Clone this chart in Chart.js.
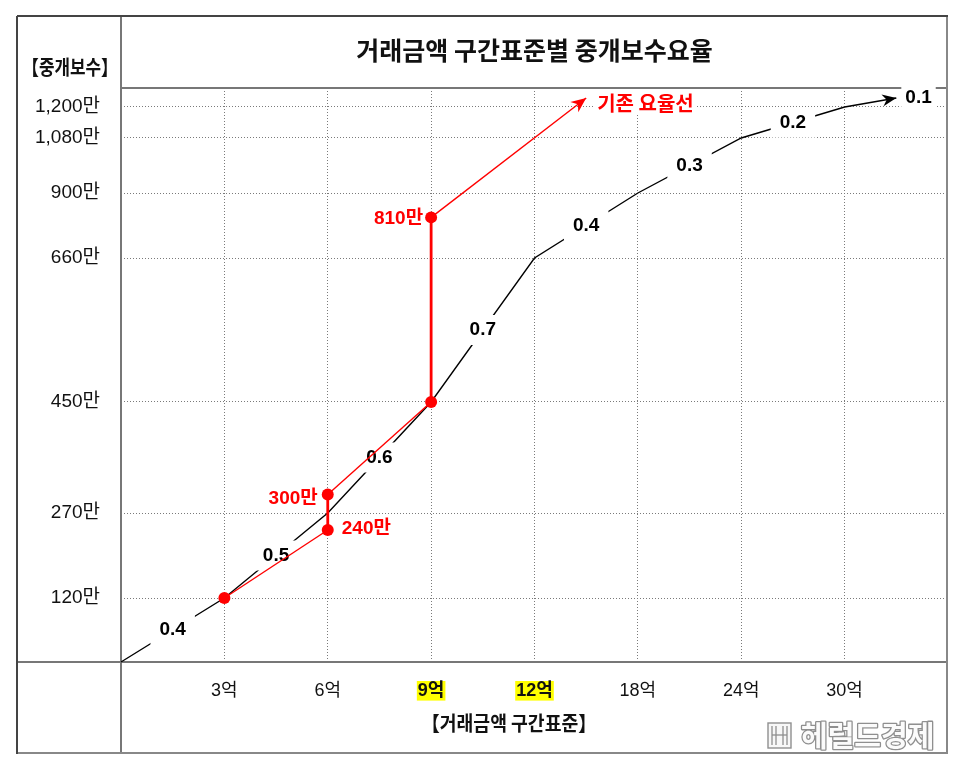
<!DOCTYPE html>
<html><head><meta charset="utf-8">
<script src="https://cdn.jsdelivr.net/npm/chart.js@4.4.1/dist/chart.umd.min.js"></script>
<style>html,body{margin:0;padding:0;background:#fff;} #wrap{width:969px;height:777px;position:relative;}</style>
</head><body><div id="wrap"><canvas id="c"></canvas></div>
<script>
// ---------- data ----------
const priceSteps = [0, 3, 6, 9, 12, 18, 24, 30];            // 거래금액 (억)
const newFees = [0, 120, 270, 450, 660, 900, 1080, 1200];    // 중개보수 (만)
const newRates = ['0.4', '0.5', '0.6', '0.7', '0.4', '0.3', '0.2', '0.1'];
const newArrowEnd = [33, 1235];
const oldPrices = [3, 6, 6, 9, 9];
const oldFees = [120, 240, 300, 450, 810];
const oldArrowEnd = [15, 1235];
const oldLineLabel = '기존 요율선';
const xTickValues = [3, 6, 9, 12, 18, 24, 30];
const xTickLabels = ['3억', '6억', '9억', '12억', '18억', '24억', '30억'];
const xHighlighted = [9, 12];
const yTickValues = [120, 270, 450, 660, 900, 1080, 1200];
const yTickLabels = ['120만', '270만', '450만', '660만', '900만', '1,080만', '1,200만'];
const titleText = '거래금액 구간표준별 중개보수요율';
const yTitleText = '【중개보수】';
const xTitleText = '【거래금액 구간표준】';
const brandText = '헤럴드경제';

// ---------- uneven axis spacing (as drawn in the picture) ----------
const X_BREAKS = [0, 3, 6, 9, 12, 18, 24, 30, 36];
const X_FRACS = X_BREAKS.map((_, i) => i / 8);
const Y_BREAKS = [0, 120, 270, 450, 660, 900, 1080, 1200];
const Y_FRACS = [0, 64, 149, 260, 404, 469, 524, 555].map(h => h / 574);

function interp(v, xs, ys) {
  let i = 0;
  while (i < xs.length - 2 && v > xs[i + 1]) i++;
  return ys[i] + (v - xs[i]) * (ys[i + 1] - ys[i]) / (xs[i + 1] - xs[i]);
}
function makePiecewise(id, breaks, fracs, ticks) {
  return class extends Chart.LinearScale {
    static id = id;
    static defaults = Chart.LinearScale.defaults;
    buildTicks() { return ticks.map(v => ({ value: v })); }
    getPixelForValue(v) { return this.getPixelForDecimal(interp(v, breaks, fracs)); }
    getValueForPixel(p) { return interp(this.getDecimalForPixel(p), fracs, breaks); }
  };
}
Chart.register(makePiecewise('pwx', X_BREAKS, X_FRACS, xTickValues));
Chart.register(makePiecewise('pwy', Y_BREAKS, Y_FRACS, yTickValues));

const FONT_LATIN = '"Liberation Sans", "Noto Sans CJK KR", sans-serif';
const FONT_KR = '"Noto Sans CJK KR", "Liberation Sans", sans-serif';

const blackData = newFees.map((f, i) => ({ x: priceSteps[i], y: f })).concat([{ x: newArrowEnd[0], y: newArrowEnd[1] }]);
const redData = oldFees.map((f, i) => ({ x: oldPrices[i], y: f })).concat([{ x: oldArrowEnd[0], y: oldArrowEnd[1] }]);

function boxLabel(ctx, text, x, y, o) {
  ctx.save();
  ctx.font = o.font;
  if (o.spacing) ctx.letterSpacing = o.spacing;
  const w = ctx.measureText(text).width;
  const align = o.align || 'center';
  let left = align === 'center' ? x - w / 2 : (align === 'left' ? x : x - w);
  if (o.bg !== false) {
    const px = o.padX ?? 9, py = o.padY ?? 15;
    ctx.fillStyle = '#fff';
    ctx.fillRect(left - px, y - py, w + 2 * px, 2 * py);
  }
  ctx.fillStyle = o.color || '#000';
  ctx.textAlign = 'left';
  ctx.textBaseline = 'middle';
  ctx.fillText(text, left, y);
  ctx.restore();
}
function fitText(ctx, text, cx, cy, font, maxW, color) {
  ctx.save();
  ctx.font = font;
  const w = ctx.measureText(text).width;
  const s = maxW / w;
  ctx.translate(cx, cy);
  ctx.scale(s, 1);
  ctx.fillStyle = color;
  ctx.textAlign = 'center';
  ctx.textBaseline = 'middle';
  ctx.fillText(text, 0, 0);
  ctx.restore();
}
function arrowHead(ctx, from, to, len, half, color) {
  const a = Math.atan2(to.y - from.y, to.x - from.x);
  ctx.save();
  ctx.translate(to.x, to.y);
  ctx.rotate(a);
  ctx.fillStyle = color;
  ctx.beginPath();
  ctx.moveTo(0, 0);
  ctx.lineTo(-len, -half);
  ctx.lineTo(-len * 0.7, 0);
  ctx.lineTo(-len, half);
  ctx.closePath();
  ctx.fill();
  ctx.restore();
}
function line(ctx, x1, y1, x2, y2, color, w) {
  ctx.save(); ctx.strokeStyle = color; ctx.lineWidth = w;
  ctx.beginPath(); ctx.moveTo(x1, y1); ctx.lineTo(x2, y2); ctx.stroke(); ctx.restore();
}

const framePlugin = {
  id: 'frame',
  beforeDatasetsDraw(chart) {
    const ctx = chart.ctx, a = chart.chartArea;
    line(ctx, 17, a.bottom, a.right, a.bottom, '#777', 2);
    line(ctx, a.left, a.top, a.right, a.top, '#777', 2);
    line(ctx, a.left, 17, a.left, 753, '#777', 2);
    line(ctx, 947, 17, 947, 754, '#888', 2);
    line(ctx, 16, 753, 948, 753, '#888', 2);
    line(ctx, 17, 16, 948, 16, '#444', 2);
    line(ctx, 17, 16, 17, 754, '#444', 2);
    fitText(ctx, yTitleText, 70, 67, 'bold 20px ' + FONT_KR, 96, '#111');
    fitText(ctx, xTitleText, 509, 723, 'bold 20px ' + FONT_KR, 175, '#111');
    // brand watermark
    ctx.save();
    ctx.strokeStyle = '#8f8f8f'; ctx.lineWidth = 1.4; ctx.fillStyle = '#f7f7f7';
    ctx.fillRect(768, 723, 23, 25); ctx.strokeRect(768, 723, 23, 25);
    for (const dx of [4, 8, 15, 19]) line(ctx, 768 + dx, 726, 768 + dx, 745, '#8f8f8f', 1.3);
    line(ctx, 772, 735, 787, 735, '#8f8f8f', 1.3);
    ctx.font = 'bold 29px ' + FONT_KR;
    ctx.textAlign = 'left'; ctx.textBaseline = 'alphabetic';
    ctx.lineWidth = 2.6; ctx.lineJoin = 'round';
    ctx.strokeText(brandText, 801, 747);
    ctx.fillStyle = '#fbfbfb';
    ctx.fillText(brandText, 801, 747);
    ctx.restore();
  },
  afterDatasetDraw(chart, args) {
    if (args.index !== 1) return;
    const ctx = chart.ctx, pts = args.meta.data;
    const font = 'bold 19px ' + FONT_LATIN;
    for (let i = 0; i < 7; i++) {
      const x = (pts[i].x + pts[i + 1].x) / 2, y = (pts[i].y + pts[i + 1].y) / 2;
      boxLabel(ctx, newRates[i], x, y, { font, color: '#000' });
    }
    const tip = pts[pts.length - 1], prev = pts[pts.length - 2];
    arrowHead(ctx, prev, tip, 14, 6, '#000');
    boxLabel(ctx, newRates[7], tip.x + 9, tip.y, { font, color: '#000', align: 'left', padX: 4, padY: 12 });
  },
  afterDatasetsDraw(chart) {
    const ctx = chart.ctx, pts = chart.getDatasetMeta(0).data;
    const font = 'bold 19px ' + FONT_LATIN;
    const tip = pts[pts.length - 1], prev = pts[pts.length - 2];
    arrowHead(ctx, prev, tip, 15, 6.5, '#ff0000');
    // value labels for the old schedule
    boxLabel(ctx, oldFees[1] + '만', pts[1].x + 14, pts[1].y - 1, { font, color: '#ff0000', align: 'left', bg: false });
    boxLabel(ctx, oldFees[2] + '만', pts[2].x - 10, pts[2].y + 4, { font, color: '#ff0000', align: 'right', bg: false });
    boxLabel(ctx, oldFees[4] + '만', pts[4].x - 8, pts[4].y + 1, { font, color: '#ff0000', align: 'right', bg: false });
    boxLabel(ctx, oldLineLabel, tip.x + 11, tip.y + 5, { font: 'bold 20px ' + FONT_KR, color: '#ff0000', align: 'left', padX: 3, padY: 12, spacing: '0px' });
  }
};

new Chart(document.getElementById('c'), {
  type: 'line',
  data: {
    datasets: [
      {
        label: '기존', data: redData, borderColor: '#ff0000', backgroundColor: '#ff0000',
        borderWidth: 1.4, tension: 0, fill: false, clip: false,
        pointRadius: ctx => ctx.dataIndex < redData.length - 1 ? 6 : 0,
        pointBorderWidth: 0, pointHoverRadius: 6,
        segment: { borderWidth: ctx => ctx.p0.parsed.x === ctx.p1.parsed.x ? 2.8 : 1.4 }
      },
      {
        label: '개정', data: blackData, borderColor: '#000', backgroundColor: '#000',
        borderWidth: 1.4, tension: 0, fill: false, clip: false, pointRadius: 0
      }
    ]
  },
  options: {
    responsive: true, maintainAspectRatio: false, animation: false,
    layout: { padding: { left: 17, top: 17, right: 21, bottom: 24 } },
    plugins: {
      legend: { display: false }, tooltip: { enabled: false },
      title: {
        display: true, text: titleText, fullSize: false, color: '#111',
        font: { family: FONT_KR, size: 25, weight: 'bold', lineHeight: 1.2 },
        padding: { top: 18, bottom: 23 }
      }
    },
    scales: {
      x: {
        type: 'pwx', min: 0, max: 36,
        afterFit: s => { s.height = 91; },
        grid: { color: '#7a7a7a', lineWidth: 1, drawTicks: false },
        border: { display: false, dash: [1, 2] },
        ticks: {
          autoSkip: false, maxRotation: 0, padding: 18, color: '#111',
          callback: (v) => xTickLabels[xTickValues.indexOf(v)],
          font: ctx => ({ family: FONT_LATIN, size: 18, weight: ctx.tick && xHighlighted.includes(ctx.tick.value) ? 'bold' : 'normal' }),
          showLabelBackdrop: ctx => !!(ctx.tick && xHighlighted.includes(ctx.tick.value)),
          backdropColor: '#ffff00',
          backdropPadding: { top: -1, bottom: -1, left: 1, right: 1 }
        }
      },
      y: {
        type: 'pwy', min: 0, max: 1273.5,
        afterFit: s => { s.width = 104; },
        grid: { color: '#7a7a7a', lineWidth: 1, drawTicks: false },
        border: { display: false, dash: [1, 2] },
        ticks: {
          autoSkip: false, padding: 21, color: '#111',
          font: { family: FONT_LATIN, size: 19 },
          callback: (v) => yTickLabels[yTickValues.indexOf(v)]
        }
      }
    }
  },
  plugins: [framePlugin]
});
</script>
</body></html>
